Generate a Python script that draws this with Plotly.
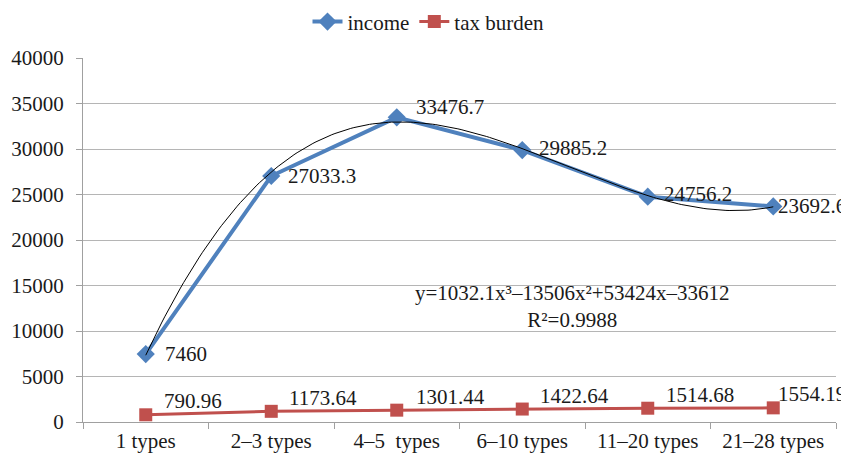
import plotly.graph_objects as go
import numpy as np

categories = ["1 types", "2–3 types", "4–5  types", "6–10 types", "11–20 types", "21–28 types"]
income = [7460, 27033.3, 33476.7, 29885.2, 24756.2, 23692.6]
tax_burden = [790.96, 1173.64, 1301.44, 1422.64, 1514.68, 1554.19]
income_labels = ["7460", "27033.3", "33476.7", "29885.2", "24756.2", "23692.6"]
tax_labels = ["790.96", "1173.64", "1301.44", "1422.64", "1514.68", "1554.19"]
# cubic trendline coefficients (x = 1..6), as printed on the chart
trend_coef = [1032.1, -13506, 53424, -33612]
trend_text = "y=1032.1x³–13506x²+53424x–33612<br>R²=0.9988"

# label offsets (pixels) relative to each point
income_dx = [17, 15, 17, 15, 14, 3]
income_dy = [0, 0, 10, 2, 3, 0]
tax_dx = [16, 16, 17, 16, 16, 3]
tax_dy = [14, 13, 13, 13, 13, 14]

FONT = "Liberation Serif, Times New Roman, serif"
FS = 21
TXT = "#1a1a1a"
xi = np.arange(len(categories))
xs = np.linspace(1, len(categories), 200)
ys = np.polyval(trend_coef, xs)

fig = go.Figure()
fig.add_trace(go.Scatter(
    x=xi, y=income, mode="lines+markers", name="income",
    line=dict(color="#4F81BD", width=4),
    marker=dict(symbol="diamond", size=14, color="#4F81BD"),
))
fig.add_trace(go.Scatter(
    x=xi, y=tax_burden, mode="lines+markers", name="tax burden",
    line=dict(color="#C0504D", width=3),
    marker=dict(symbol="square", size=13, color="#C0504D"),
))
fig.add_trace(go.Scatter(
    x=xs - 1, y=ys, mode="lines", showlegend=False, hoverinfo="skip",
    line=dict(color="black", width=1),
))
for i in range(len(categories)):
    fig.add_annotation(x=xi[i], y=income[i], text=income_labels[i], showarrow=False,
                       xanchor="left", yanchor="middle", xshift=income_dx[i], yshift=income_dy[i],
                       font=dict(family=FONT, size=FS, color=TXT))
    fig.add_annotation(x=xi[i], y=tax_burden[i], text=tax_labels[i], showarrow=False,
                       xanchor="left", yanchor="middle", xshift=tax_dx[i], yshift=tax_dy[i],
                       font=dict(family=FONT, size=FS, color=TXT))
fig.add_annotation(
    x=3.4, y=12700, xref="x", yref="y", text=trend_text, showarrow=False,
    font=dict(family=FONT, size=FS, color=TXT), align="center",
)

# page body adds an 8px offset; figure sized to fill the rest of the 849x456 window
fig.update_layout(
    width=841, height=448,
    margin=dict(l=75, r=13, t=50, b=34, autoexpand=False),
    paper_bgcolor="white", plot_bgcolor="white",
    font=dict(family=FONT, size=FS, color=TXT),
    legend=dict(orientation="h", x=0.5, xref="container", xanchor="center",
                y=1.099, yanchor="middle",
                font=dict(family=FONT, size=FS, color=TXT)),
    showlegend=True,
)
fig.update_xaxes(
    range=[-0.5, len(categories) - 0.5], automargin=False,
    tickvals=list(xi), ticktext=categories, ticks="",
    showgrid=False, zeroline=False,
    showline=True, linecolor="#a0a0a0", linewidth=1,
    minor=dict(tickvals=list(np.arange(-0.5, len(categories), 1.0)), ticks="outside",
               ticklen=6, tickcolor="#a0a0a0", showgrid=False),
    tickfont=dict(family=FONT, size=FS, color=TXT),
)
fig.update_yaxes(
    range=[0, 40000], dtick=5000, tickformat="d", automargin=False,
    showgrid=True, gridcolor="#b5b5b5", gridwidth=1,
    zeroline=False, showline=True, linecolor="#a0a0a0", linewidth=1,
    ticks="outside", ticklen=6, tickcolor="#a0a0a0",
    ticklabelstandoff=8,
    tickfont=dict(family=FONT, size=FS, color=TXT),
)
fig.write_html("out.html")
